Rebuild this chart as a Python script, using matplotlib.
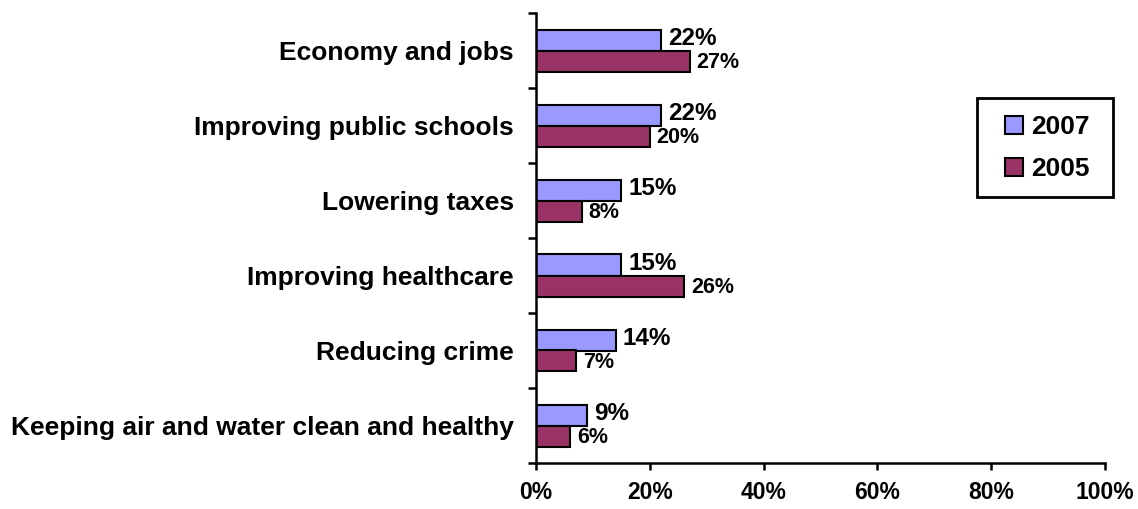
import matplotlib
matplotlib.use("Agg")
import matplotlib.pyplot as plt
from matplotlib.patches import Rectangle
import numpy as np

categories = [
    "Economy and jobs",
    "Improving public schools",
    "Lowering taxes",
    "Improving healthcare",
    "Reducing crime",
    "Keeping air and water clean and healthy",
]
values_2007 = [22, 22, 15, 15, 14, 9]
values_2005 = [27, 20, 8, 26, 7, 6]
series_names = ["2007", "2005"]
x_ticks = [0, 20, 40, 60, 80, 100]
x_tick_labels = ["0%", "20%", "40%", "60%", "80%", "100%"]

plt.rcParams["font.family"] = ["Liberation Sans", "DejaVu Sans"]
plt.rcParams["font.weight"] = "bold"

W, H = 1138, 509
fig = plt.figure(figsize=(W / 100, H / 100), dpi=100)
ax = fig.add_axes([536 / W, 1 - 463 / H, (1105 - 536) / W, (463 - 13) / H])

n = len(categories)
y = np.arange(n)
h = 0.28
c2007 = "#9999FF"
c2005 = "#993366"

ax.barh(y - h / 2, values_2007, height=h, color=c2007, edgecolor="black",
        linewidth=1.5, label=series_names[0])
ax.barh(y + h / 2, values_2005, height=h, color=c2005, edgecolor="black",
        linewidth=1.5, label=series_names[1])

for yi, v in zip(y, values_2007):
    ax.annotate(f"{v}%", xy=(v, yi - h / 2), xytext=(5, 1), textcoords="offset points",
                va="center", ha="left", fontsize=17.5, fontweight="bold")
for yi, v in zip(y, values_2005):
    ax.annotate(f"{v}%", xy=(v, yi + h / 2), xytext=(5, -1), textcoords="offset points",
                va="center", ha="left", fontsize=15.5, fontweight="bold")

ax.set_xlim(0, 100)
ax.set_ylim(n - 0.5, -0.5)
ax.set_xticks(x_ticks)
ax.set_xticklabels(x_tick_labels, fontsize=16.5, fontweight="bold")

# Category names sit between the boundary ticks
ax.set_yticks(np.arange(-0.5, n, 1.0))
ax.set_yticklabels([])
ax.set_yticks(y, minor=True)
ax.set_yticklabels(categories, minor=True, fontsize=19, fontweight="bold")
ax.tick_params(axis="y", which="minor", length=0, pad=16)
ax.tick_params(axis="y", which="major", direction="out", length=6, width=1.8)
ax.tick_params(axis="x", direction="out", length=5, width=1.8, pad=8)

for side in ["top", "right"]:
    ax.spines[side].set_visible(False)
for side in ["left", "bottom"]:
    ax.spines[side].set_linewidth(1.8)

# Legend entries, with a separate square frame around them
leg = fig.legend(loc="upper left", bbox_to_anchor=(1005 / W, 1 - 115 / H),
                 fontsize=19, frameon=False,
                 handlelength=0.68, handleheight=0.68, handletextpad=0.3,
                 labelspacing=0.68, borderpad=0, borderaxespad=0)
for t in leg.get_texts():
    t.set_fontweight("bold")
fig.add_artist(Rectangle((977 / W, 1 - 197 / H), (1113 - 977) / W, (197 - 98) / H,
                         transform=fig.transFigure, fill=False,
                         edgecolor="black", linewidth=2))

fig.savefig("out.png", dpi=100)
